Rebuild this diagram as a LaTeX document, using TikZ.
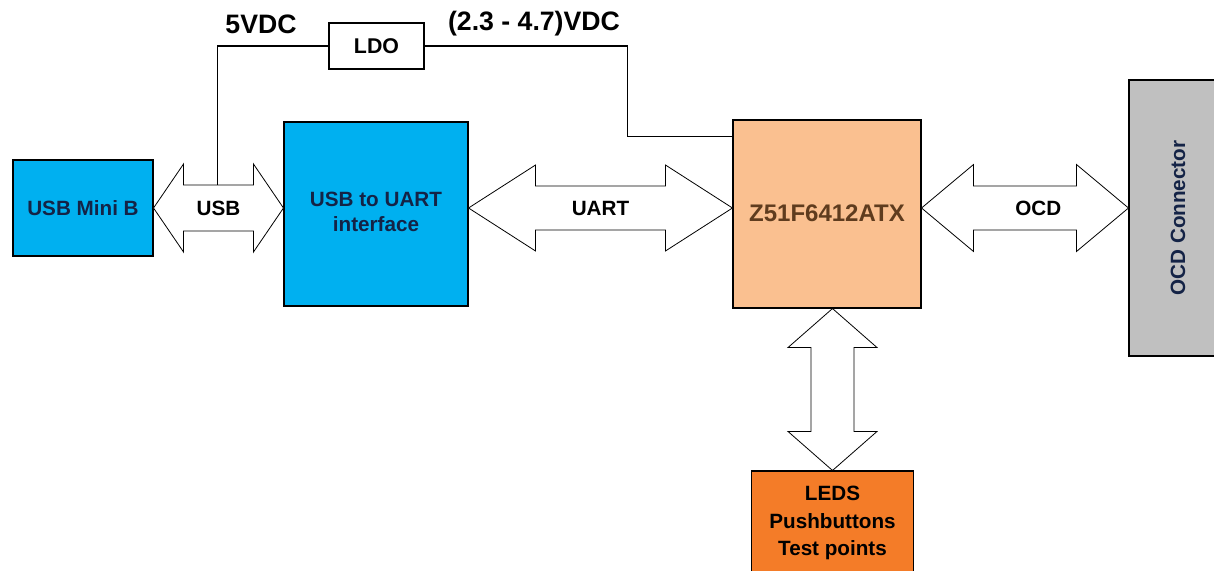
\documentclass[tikz,border=0pt]{standalone}
\usepackage{fontspec}
\setmainfont{Liberation Sans}
\usetikzlibrary{calc,positioning}
\usepackage{xcolor}
\definecolor{usbblue}{RGB}{0,176,240}
\definecolor{mcuorange}{RGB}{250,192,144}
\definecolor{ledorange}{RGB}{244,124,40}
\definecolor{ocdgrey}{RGB}{192,192,192}
\definecolor{navytext}{RGB}{20,35,70}
\definecolor{browntext}{RGB}{95,60,30}

\newcommand{\hbus}[6]{%
  \draw[bus] (#1) -- ++(#3,-#4) |- ($(#2)+(-#3,-#5)$) -- ++(0,#5-#4) -- (#2)
    -- ++(-#3,#4) |- ($(#1)+(#3,#5)$) -- ++(0,#4-#5) -- cycle;
  \path (#1) -- (#2) node[midway,buslabel]{#6};}
\newcommand{\vbus}[5]{%
  \draw[bus] (#1) -- ++(-#4,#3) -| ($(#2)+(-#5,-#3)$) -- ++(#5-#4,0) -- (#2)
    -- ++(#4,-#3) -| ($(#1)+(#5,#3)$) -- ++(#4-#5,0) -- cycle;}

\begin{document}
\begin{tikzpicture}[x=0.75pt,y=-0.75pt,
    block/.style={draw,line width=0.8pt,align=center,inner sep=0pt,font=\bfseries\fontsize{15.5}{19}\selectfont},
    bus/.style={draw,line width=0.6pt,fill=white},
    buslabel/.style={font=\bfseries\fontsize{15.5}{19}\selectfont},
    wire/.style={draw,line width=0.8pt},
    vlabel/.style={font=\bfseries\fontsize{20}{24}\selectfont}]
					\clip (0,0) rectangle (1214,571);
					\fill[white] (0,0) rectangle (1214,571);
					\node[block,fill=usbblue,text=navytext,minimum width=105pt,minimum height=72pt] (mini) at (83,208) {USB Mini B};
					\node[block,fill=usbblue,text=navytext,minimum width=138pt,minimum height=138pt] (bridge) at (376,214) {\raisebox{6pt}{\begin{tabular}{@{}c@{}}USB to UART\\interface\end{tabular}}};
					\node[block,fill=mcuorange,text=browntext,minimum width=141pt,minimum height=141pt,font=\bfseries\fontsize{18}{21}\selectfont] (mcu) at (827,214) {\raisebox{2pt}{Z51F6412ATX}};
					\node[block,fill=ocdgrey,text=navytext,minimum width=73.5pt,minimum height=207pt] (ocd) at (1178,218) {\rotatebox{90}{OCD Connector}};
					\node[block,fill=ledorange,minimum width=122pt,minimum height=78pt,font=\bfseries\fontsize{15.5}{20.5}\selectfont] (leds) at (832.5,523) {LEDS\\Pushbuttons\\Test points};
					\node[block,minimum width=71.25pt,minimum height=34.5pt,font=\bfseries\fontsize{16}{19}\selectfont] (ldo) at (376.5,46) {LDO};
					\coordinate (usbR) at (mini.east -| bridge.west);
					\coordinate (uartL) at (mini.east -| bridge.east);
					\coordinate (uartR) at (mini.east -| mcu.west);
					\coordinate (ocdL) at (mini.east -| mcu.east);
					\coordinate (ocdR) at (mini.east -| ocd.west);
					\coordinate (ioT) at (leds.north |- mcu.south);
					\coordinate (tap) at ($(mini.east)+(64,-23)$);
					\coordinate (vin) at ($(mcu.north west)+(0,17)$);
					\hbus{mini.east}{usbR}{30}{44}{23}{USB}
					\hbus{uartL}{uartR}{67}{43}{22}{UART}
					\hbus{ocdL}{ocdR}{52}{43.5}{22}{\hspace{20pt}OCD}
					\vbus{ioT}{leds.north}{39}{44.5}{21.5}
					\draw[wire] (tap) |- (ldo.west);
					\draw[wire] (ldo.east) -- ++(203,0) |- (vin);
					\node[vlabel] (v5) at (261,24) {5VDC};
					\node[vlabel] (vout) at (534,24) {(2.3 - 4.7)VDC};
				\end{tikzpicture}
\end{document}
